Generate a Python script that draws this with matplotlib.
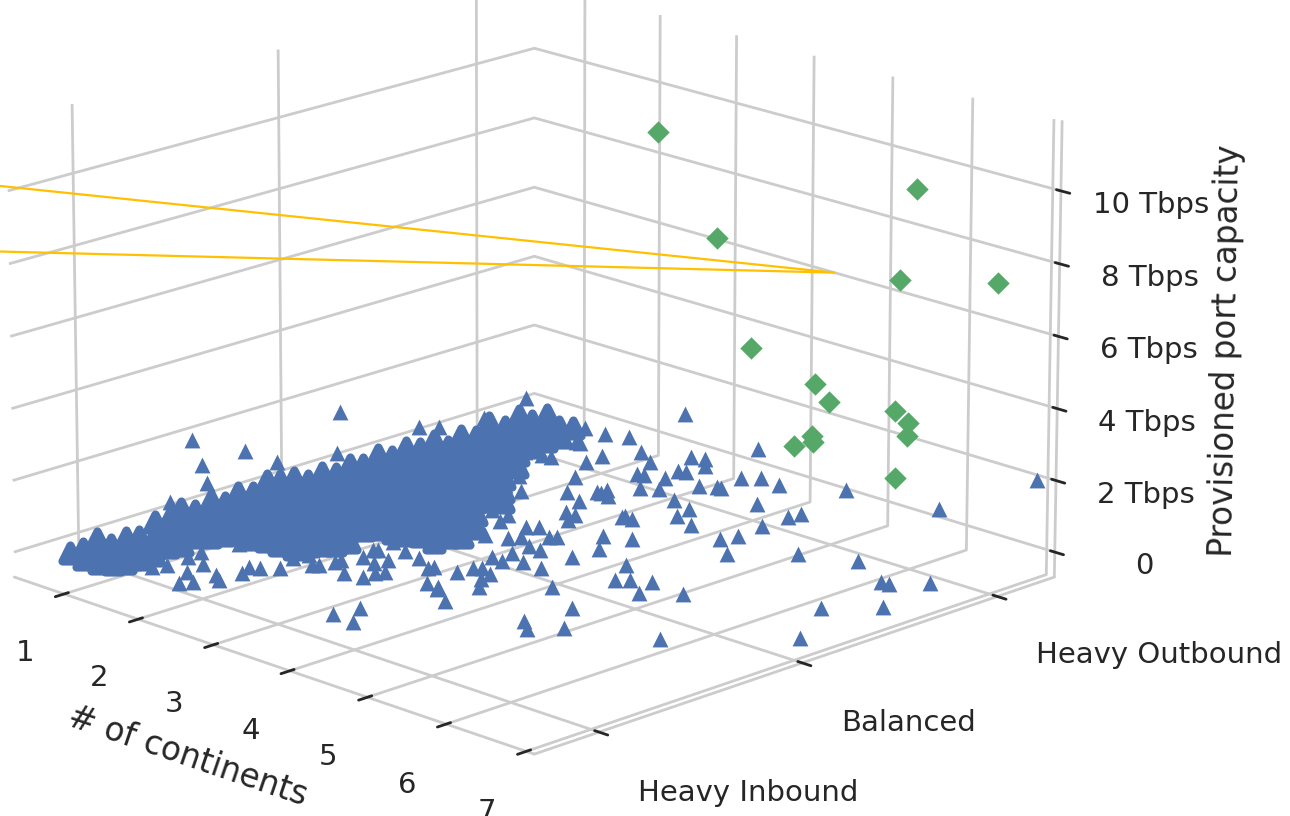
import matplotlib
matplotlib.use("Agg")
import matplotlib.pyplot as plt
import seaborn as sns

sns.set_theme(style="whitegrid")

x_ticks = [1, 2, 3, 4, 5, 6, 7]
y_ticks = [-1, 0, 1]
y_labels = ["Heavy Inbound", "Balanced", "Heavy Outbound"]
z_ticks = [0, 2, 4, 6, 8, 10]
z_labels = ["0", "2 Tbps", "4 Tbps", "6 Tbps", "8 Tbps", "10 Tbps"]

# blue points, scattered ones near the floor
scatter_z = 0.4
scatter_x = [2.00, 2.22, 2.63, 2.45, 2.90, 3.06, 3.20, 3.35, 3.34, 3.06, 3.13, 3.33, 3.27,
             3.35, 3.84, 3.97, 4.23, 3.72, 3.86, 3.91, 3.38, 3.53, 4.78, 3.20, 3.23, 3.34,
             3.85, 4.47, 4.14, 3.85, 3.96, 4.19, 4.47, 4.94, 4.96, 4.96, 4.94, 5.00, 5.29,
             4.12, 4.37, 5.74, 6.27, 4.85, 5.07, 5.18, 5.36, 5.48, 5.78, 6.82, 6.92, 7.17,
             6.93, 7.31, 6.50, 7.36, 1.73, 1.73, 2.03, 1.97, 2.03, 2.13, 2.46, 2.71, 3.17,
             2.98, 3.24, 3.38, 3.50, 3.57, 3.86, 4.35, 4.34, 4.81, 4.36, 4.00, 3.84, 4.12,
             3.87, 3.98, 3.79, 3.84, 3.52, 3.43, 3.54, 3.60, 3.82, 4.16, 3.98, 3.92, 4.20,
             4.34, 3.90, 3.65, 3.63, 3.37, 3.93, 4.07, 3.14, 2.87, 3.21, 2.94, 2.90, 2.99,
             3.19, 3.43, 3.39, 3.39, 3.19, 2.91, 2.91, 3.94, 3.99, 4.23, 4.11, 4.40, 5.31,
             5.48, 5.68, 5.35, 1.83, 1.89, 1.87, 1.85, 2.09, 2.16, 2.33, 2.40, 2.40, 2.53,
             2.53, 2.45, 2.55, 2.67, 1.91, 2.87, 2.83, 2.55, 2.60,
             2.53, 2.43, 2.33, 2.85, 2.76, 2.66, 3.34, 3.14, 2.07, 1.86, 1.49, 3.07]
scatter_y = [1.02, 1.06, 0.96, 0.83, 0.90, 1.05, 1.07, 1.01, 1.29, 0.77, 0.78, 0.81, 0.90,
             0.91, 1.00, 1.05, 1.04, 0.83, 0.87, 0.87, 0.66, 0.70, 1.17, 0.56, 0.52, 0.51,
             0.65, 0.83, 0.61, 0.40, 0.39, 0.53, 0.49, 0.80, 0.86, 0.66, 0.45, 0.52, 0.35,
             0.18, 0.23, 0.53, 0.62, 0.01, -0.13, -0.10, -0.06, -0.17, -0.07, 0.51, 0.51, 0.62,
             0.16, 0.32, -0.47, -0.12, 0.98, 1.02, 0.88, 0.88, 0.68, 0.69, 0.74, 0.59, 0.52,
             0.44, 0.40, 0.28, 0.28, 0.22, 0.38, 0.07, -0.06, -0.34, -0.22, -0.09, -0.08, -0.22,
             -0.18, -0.27, 0.04, 0.06, 0.09, 0.06, -0.07, -0.03, -0.26, -0.40, -0.37, -0.39, -0.46,
             -0.52, -0.46, -0.48, -0.50, -0.45, -0.62, -0.62, -0.43, -0.39, -0.54, -0.49, -0.50, -0.58,
             -0.60, -0.64, -0.67, -0.73, -0.75, -0.66, -0.69, -1.08, -0.97, -1.09, -0.64, -0.71, -0.67,
             -0.72, -0.62, -0.45, -1.18, -1.13, -1.02, -0.95, -1.03, -1.13, -1.23, -1.19, -1.08, -1.11,
             -1.00, -0.94, -0.92, -0.87, -0.79, -0.75, -0.77, -0.76, -0.70,
             0.23, 0.34, 0.45, 0.11, 0.22, 0.33, -0.11, 0.04, 0.50, 0.66, 0.87, 0.11]

# blue points that stand clear of the floor
high_x = [6.75, 2.06, 1.12, 0.76, 2.70, 1.34, 1.37, 1.02, 1.18, 1.02, 1.22, 1.20, 1.33, 1.44, 6.34]
high_y = [1.35, 0.59, 0.00, -0.60, 1.16, -0.55, -0.77, -0.62, -0.86, -0.28, -0.05, 0.37, 0.42, 0.61, 1.01]
high_z = [1.7, 2.2, 2.2, 2.2, 1.2, 2.2, 2.2, 1.2, 1.2, 1.2, 1.2, 1.2, 1.2, 1.2, 1.2]

# the crowded band of blue points
band_z = 0.4
band_x = [1.00, 1.01, 1.22, 0.89, 1.16, 1.40, 1.11, 1.38, 1.53, 1.05, 1.32, 1.58, 1.12,
          1.39, 1.58, 0.91, 1.19, 1.46, 1.59, 0.96, 1.24, 1.51, 0.80, 1.08, 1.35, 1.56,
          0.93, 1.21, 1.49, 0.81, 1.09, 1.37, 1.58, 0.95, 1.22, 1.50, 1.63, 0.82, 1.10,
          1.38, 1.65, 0.92, 1.19, 1.47, 1.75, 1.89, 0.75, 1.03, 1.31, 1.58, 1.86, 2.02,
          0.84, 1.12, 1.40, 1.68, 1.95, 2.20, 0.87, 1.15, 1.43, 1.70, 1.98, 2.25, 2.37,
          1.03, 1.31, 1.58, 1.86, 2.13, 2.40, 0.95, 1.23, 1.51, 1.78, 2.06, 2.33, 2.47,
          1.06, 1.34, 1.62, 1.90, 2.17, 2.44, 2.56, 0.96, 1.24, 1.52, 1.80, 2.07, 2.34,
          2.59, 1.05, 1.33, 1.61, 1.89, 2.16, 2.43, 0.93, 1.21, 1.49, 1.77, 2.04, 2.32,
          2.51, 1.07, 1.35, 1.63, 1.90, 2.18, 2.45, 2.68, 0.97, 1.25, 1.53, 1.81, 2.08,
          2.35, 2.63, 2.81, 1.08, 1.36, 1.64, 1.92, 2.19, 2.47, 2.74, 2.94, 1.00, 1.28,
          1.56, 1.84, 2.12, 2.39, 2.66, 2.93, 3.14, 1.22, 1.51, 1.79, 2.06, 2.34, 2.61,
          2.88, 3.13, 1.08, 1.36, 1.64, 1.92, 2.20, 2.47, 2.74, 3.01, 3.22, 1.20, 1.48,
          1.76, 2.04, 2.31, 2.58, 2.86, 3.12, 0.98, 1.27, 1.55, 1.83, 2.11, 2.38, 2.66,
          1.17, 1.45, 1.73, 2.01, 2.28, 2.56, 2.77, 1.02, 1.30, 1.59, 1.87, 2.12, 1.22,
          1.51, 1.79, 1.19, 1.47, 1.75, 1.54, 1.76, 1.65]
band_y = [-1.28, -1.22, -1.29, -1.11, -1.20, -1.28, -1.12, -1.21, -1.26, -1.03, -1.13, -1.22, -0.99,
          -1.08, -1.15, -0.84, -0.94, -1.04, -1.09, -0.79, -0.89, -0.99, -0.67, -0.77, -0.87, -0.94,
          -0.65, -0.75, -0.85, -0.53, -0.63, -0.73, -0.81, -0.51, -0.61, -0.71, -0.76, -0.40, -0.50,
          -0.60, -0.70, -0.36, -0.47, -0.57, -0.67, -0.72, -0.23, -0.34, -0.44, -0.54, -0.64, -0.70,
          -0.20, -0.30, -0.40, -0.50, -0.60, -0.70, -0.14, -0.24, -0.34, -0.45, -0.55, -0.65, -0.69,
          -0.13, -0.23, -0.33, -0.43, -0.53, -0.63, -0.03, -0.13, -0.23, -0.34, -0.44, -0.54, -0.59,
          -0.00, -0.10, -0.21, -0.31, -0.41, -0.51, -0.56, 0.11, 0.00, -0.10, -0.20, -0.30, -0.41,
          -0.50, 0.14, 0.04, -0.06, -0.17, -0.27, -0.37, 0.26, 0.16, 0.05, -0.05, -0.16, -0.26,
          -0.33, 0.28, 0.18, 0.07, -0.03, -0.14, -0.24, -0.32, 0.39, 0.28, 0.18, 0.07, -0.03,
          -0.13, -0.23, -0.30, 0.42, 0.31, 0.21, 0.10, -0.00, -0.10, -0.21, -0.28, 0.52, 0.41,
          0.31, 0.20, 0.10, -0.01, -0.11, -0.21, -0.29, 0.51, 0.40, 0.29, 0.19, 0.09, -0.02,
          -0.12, -0.21, 0.63, 0.53, 0.42, 0.31, 0.21, 0.11, 0.00, -0.10, -0.18, 0.66, 0.55,
          0.45, 0.34, 0.24, 0.13, 0.03, -0.07, 0.81, 0.71, 0.60, 0.49, 0.39, 0.28, 0.18,
          0.82, 0.71, 0.60, 0.49, 0.39, 0.28, 0.20, 0.95, 0.84, 0.73, 0.62, 0.52, 0.94,
          0.83, 0.72, 1.03, 0.92, 0.81, 0.96, 0.88, 0.99]

# green points
green_x = [3.34, 6.30, 3.68, 5.79, 7.26, 3.98, 4.41, 4.89, 5.51, 5.84, 6.10, 4.75, 4.88, 4.84, 5.78]
green_y = [0.76, 0.89, 0.93, 1.02, 0.91, 0.99, 1.15, 1.03, 1.12, 1.05, 0.94, 1.00, 0.95, 0.87, 1.01]
green_z = [10.2, 10.2, 7.2, 7.2, 8.2, 4.2, 3.2, 3.2, 3.2, 3.2, 3.2, 2.2, 2.2, 2.2, 1.7]

# orange line
line_x = [0.32, 5.99, 0.15]
line_y = [-1.35, 0.60, -1.29]
line_z = [10.2, 8.2, 8.2]

fig = plt.figure(figsize=(12.9, 8.16), dpi=100)
ax = fig.add_axes([-0.2105, -0.1335, 1.226, 1.370], projection="3d")
ax.set_proj_type("persp", focal_length=1.6)
ax.view_init(elev=17.5, azim=-45)
ax.set_box_aspect((4, 4, 2.58))

ax.scatter(band_x, band_y, band_z, marker="^", s=130, c="#4C72B0", edgecolors="#4C72B0", linewidths=6, depthshade=False)
ax.scatter(scatter_x, scatter_y, scatter_z, marker="^", s=130, c="#4C72B0", linewidths=0, depthshade=False)
ax.scatter(high_x, high_y, high_z, marker="^", s=130, c="#4C72B0", linewidths=0, depthshade=False)
ax.scatter(green_x, green_y, green_z, marker="D", s=130, c="#55A868", linewidths=0, depthshade=False)
ax.plot(line_x, line_y, line_z, color="#FFC000", lw=1.6)

ax.set_xlim(0.32, 7.1)
ax.set_ylim(-1.31, 1.30)
ax.set_zlim(-0.7, 11.9)
ax.set_xticks(x_ticks)
ax.set_yticks(y_ticks)
ax.set_yticklabels(y_labels, ha="left")
ax.set_zticks(z_ticks)
ax.set_zticklabels(z_labels)
ax.tick_params(axis="x", labelsize=21, pad=22)
ax.tick_params(axis="y", labelsize=21, pad=22)
ax.tick_params(axis="z", labelsize=21, pad=28)
ax.set_xlabel("# of continents", fontsize=23.5, labelpad=40)
ax.set_zlabel("Provisioned port capacity", fontsize=23.5, labelpad=46)

for axis in (ax.xaxis, ax.yaxis, ax.zaxis):
    axis.set_pane_color((1, 1, 1, 0))
    axis.pane.set_edgecolor((1, 1, 1, 0))
    axis.line.set_color("0.8")
    axis.line.set_linewidth(2)
    axis._axinfo["grid"]["color"] = "0.8"
    axis._axinfo["grid"]["linewidth"] = 2
    axis._axinfo["tick"]["color"] = "0.15"
    axis._axinfo["tick"]["linewidth"] = {True: 2, False: 2}

fig.savefig("out.png", dpi=100)
